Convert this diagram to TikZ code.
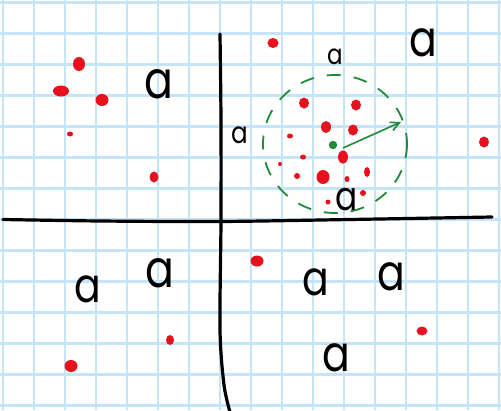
\documentclass[tikz,border=0pt]{standalone}
\usepackage{fontspec}
\usetikzlibrary{arrows.meta}
\newfontfamily\hand{Poppins}
\definecolor{gridblue}{HTML}{C6E4F8}
\definecolor{dotred}{HTML}{E8101C}
\definecolor{pengreen}{HTML}{1F8A3A}
\newcommand{\lsize}[1]{\hand\fontsize{#1}{#1}\selectfont}
\newcommand{\narrowa}{\scalebox{0.82}[1]{a}}
\begin{document}
\begin{tikzpicture}[x=1pt,y=-1pt,
  gridline/.style={gridblue,line width=2.2pt},
  axisline/.style={black,line width=3.2pt,line cap=round},
  letter/.style={inner sep=0pt,font=\hand},
  reddot/.style={fill=dotred},
  circlepen/.style={pengreen,line width=1.8pt,dash pattern=on 14pt off 13pt},
  arrowpen/.style={pengreen,line width=1.6pt,-{Straight Barb[length=9pt,width=9pt]}}]
\useasboundingbox (0,0) rectangle (501,410);
\fill[white] (0,0) rectangle (501,410);
% grid
\foreach \i in {0,...,16} \draw[gridline] ({3.3+31*\i},0) -- ({3.3+31*\i},410);
\foreach \j in {0,...,13} \draw[gridline] (0,{2.5+31*\j}) -- (501,{2.5+31*\j});
% axes
\draw[axisline] plot[smooth] coordinates {(3,219.5) (100,221) (220,221.5) (350,219.5) (492,217)};
\draw[axisline] plot[smooth] coordinates {(220,34) (221,120) (221,220) (220,330) (224,385) (230,412)};
% green circle
\draw[circlepen] (335,144) ellipse [x radius=72, y radius=69];
% red dots
\foreach \x/\y/\rx/\ry in {79/64/6/7, 61/91/8/5.5, 102/100/6.5/6, 70/134/3/2.5, 154/177/4.5/5.5,
  273/43/5.5/5, 304/103/5/5.5, 356/105/5/5.5, 326/127/5/6, 353/130/5/5.5, 290/136/3/2.5,
  343/157/5/6.5, 303/157/3/2.5, 280/164/2/2, 297/176/3/3, 323/177/6.5/7, 347/179/2.5/3,
  367/172/3/5, 363/193/3/3, 328/202/2.5/2.5, 484/142/5/5.5,
  257/261/6.5/5.5, 422/331/5.5/4.5, 170/340/4/5, 71/366/6.5/6}
  \fill[reddot] (\x,\y) ellipse [x radius=\rx, y radius=\ry];
% green centre dot and arrow
\fill[pengreen] (333,145) circle (4.2) coordinate (ctr);
\coordinate (rim) at (401,122);
\draw[arrowpen] (343,148) -- (rim);
% letters
\node[letter,font=\lsize{52}] (a1) at (159,84) {\narrowa};
\node[letter,font=\lsize{30}] (a2) at (240,135) {\narrowa};
\node[letter,font=\lsize{28}] (a3) at (335,57) {\narrowa};
\node[letter,font=\lsize{50}] (a4) at (423,43) {\narrowa};
\node[letter,font=\lsize{40}] (a5) at (347,200) {\narrowa};
\node[letter,font=\lsize{48}] (a6) at (88,289) {\narrowa};
\node[letter,font=\lsize{52}] (a7) at (160,273) {\narrowa};
\node[letter,font=\lsize{48}] (a8) at (316,282) {\narrowa};
\node[letter,font=\lsize{50}] (a9) at (391,277) {\narrowa};
\node[letter,font=\lsize{50}] (a10) at (336,358) {\narrowa};
\end{tikzpicture}
\end{document}
